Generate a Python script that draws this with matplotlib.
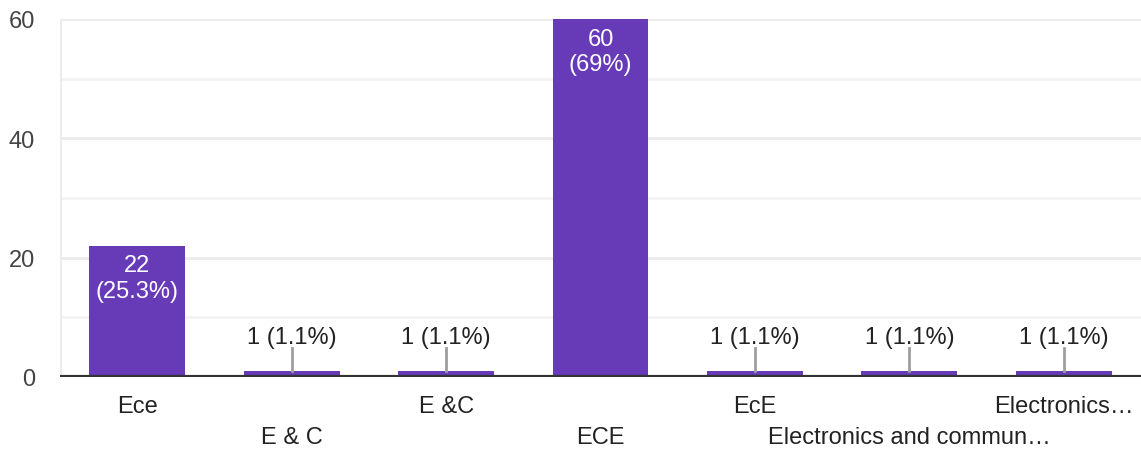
import matplotlib
matplotlib.use('Agg')
import matplotlib.pyplot as plt

categories = ['Ece', 'E & C', 'E &C', 'ECE', 'EcE',
              'Electronics and commun…', 'Electronics…']
counts = [22, 1, 1, 60, 1, 1, 1]
labels = ['22\n(25.3%)', '1 (1.1%)', '1 (1.1%)', '60\n(69%)',
          '1 (1.1%)', '1 (1.1%)', '1 (1.1%)']
yticks = [0, 20, 40, 60]

plt.rcParams['font.family'] = ['Liberation Sans', 'DejaVu Sans']
FS = 17

fig = plt.figure(figsize=(11.41, 4.52), dpi=100)
ax = fig.add_axes([60 / 1141, 74 / 452, 1081 / 1141, 358 / 452])

x = list(range(len(categories)))
ax.bar(x, counts, width=0.62, color='#673ab7', zorder=3)

# gridlines
for v in range(10, 61, 10):
    ax.axhline(v, color='#ebebeb' if v % 20 == 0 else '#f3f3f3', lw=2, zorder=1)
ax.axvline(-0.5, color='#ebebeb', lw=2, zorder=1)
ax.axhline(0, color='#333333', lw=3, zorder=4)

# value labels
for i, (c, lab) in enumerate(zip(counts, labels)):
    if c > 10:
        ax.text(i, c - 5.4, lab, ha='center', va='center', color='white',
                fontsize=FS, linespacing=1.2, zorder=5)
    else:
        ax.plot([i, i], [c, 4.85], color='#9e9e9e', lw=2, zorder=5)
        ax.text(i, 6.7, lab, ha='center', va='center', color='#222222',
                fontsize=FS, zorder=5)

ax.set_xlim(-0.5, 6.5)
ax.set_ylim(0, 60)
ax.set_yticks(yticks)
ax.set_yticklabels([str(v) for v in yticks], fontsize=FS, color='#444444')
ax.tick_params(axis='y', length=0, pad=18)
ax.set_xticks(x)
ax.set_xticklabels([''] * len(x))
ax.tick_params(axis='x', length=0)
for s in ax.spines.values():
    s.set_visible(False)

# staggered category labels
for i, name in enumerate(categories):
    off = 29 if i % 2 == 0 else 60
    ax.annotate(name, (i, 0), xytext=(0, -off), textcoords='offset pixels',
                ha='center', va='center', fontsize=FS, color='#222222',
                annotation_clip=False)

fig.savefig('out.png', dpi=100)
